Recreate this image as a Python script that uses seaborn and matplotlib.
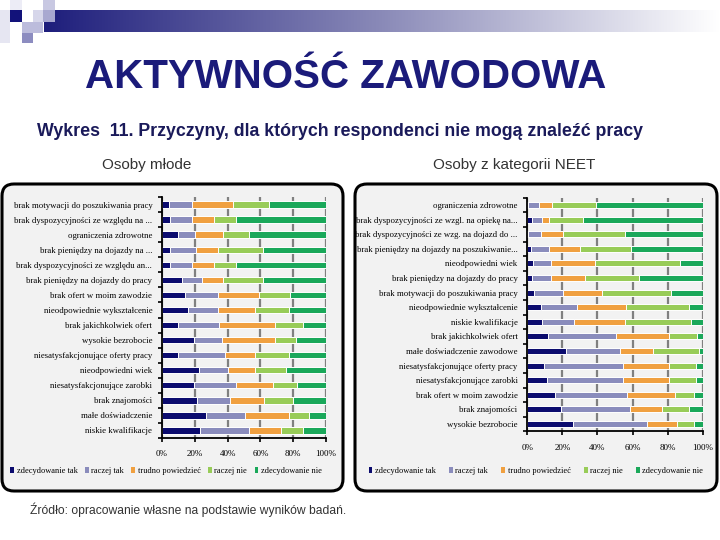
import numpy as np
import pandas as pd
import seaborn as sns
import matplotlib
matplotlib.use("Agg")
import matplotlib.pyplot as plt
from matplotlib.patches import FancyBboxPatch, Rectangle, Patch
from matplotlib.ticker import FixedLocator
from matplotlib.colors import LinearSegmentedColormap

# ---------------- data ----------------
series_names = ["zdecydowanie tak", "raczej tak", "trudno powiedzieć", "raczej nie", "zdecydowanie nie"]

left_categories = [
    "brak motywacji do poszukiwania pracy",
    "brak dyspozycyjności ze względu na ...",
    "ograniczenia zdrowotne",
    "brak pieniędzy na dojazdy na ...",
    "brak dyspozycyjności ze względu an...",
    "brak pieniędzy na dojazdy do pracy",
    "brak ofert w moim zawodzie",
    "nieodpowiednie wykształcenie",
    "brak jakichkolwiek ofert",
    "wysokie bezrobocie",
    "niesatysfakcjonujące oferty pracy",
    "nieodpowiedni wiek",
    "niesatysfakcjonujące zarobki",
    "brak znajomości",
    "małe doświadczenie",
    "niskie kwalifikacje",
]
left_zdec_tak = [4, 5, 10, 5, 5, 12, 14, 15.7, 9.8, 19.3, 9.8, 22.6, 19.3, 21.4, 27.1, 23.2]
left_raczej_tak = [14, 13, 10, 16, 13, 12.4, 20.4, 18.5, 25, 17.4, 28.5, 17.5, 25.9, 19.9, 23.8, 30]
left_trudno = [25, 14, 17, 13, 14, 12.9, 24.8, 22.6, 34, 32.5, 18.7, 16.9, 22.6, 20.8, 26.3, 19.1]
left_raczej_nie = [22, 13, 16, 27.5, 13, 24.2, 18.6, 20.8, 17.4, 12.5, 20.2, 18.4, 14.7, 17.9, 12.2, 13.9]
left_zdec_nie = [35, 55, 47, 38.5, 55, 38.5, 22.2, 22.4, 13.8, 18.3, 22.8, 24.6, 17.5, 20, 10.6, 13.8]

right_categories = [
    "ograniczenia zdrowotne",
    "brak dyspozycyjności ze wzgl. na opiekę na...",
    "brak dyspozycyjności ze wzg. na dojazd do ...",
    "brak pieniędzy na dojazdy na poszukiwanie...",
    "nieodpowiedni wiek",
    "brak pieniędzy na dojazdy do pracy",
    "brak motywacji do poszukiwania pracy",
    "nieodpowiednie wykształcenie",
    "niskie kwalifikacje",
    "brak jakichkolwiek ofert",
    "małe doświadczenie zawodowe",
    "niesatysfakcjonujące oferty pracy",
    "niesatysfakcjonujące zarobki",
    "brak ofert w moim zawodzie",
    "brak znajomości",
    "wysokie bezrobocie",
]
right_zdec_tak = [0.5, 2.7, 0.5, 2.3, 3.4, 2.7, 4, 7.8, 8.6, 12, 22, 9.7, 11, 16, 19.4, 26.2]
right_raczej_tak = [6.3, 5.5, 7.5, 10.2, 10.3, 11, 16.2, 20.5, 18, 38.4, 30.8, 45.1, 43.8, 40.7, 39, 41.9]
right_trudno = [7.5, 4.2, 12.2, 17.3, 25.1, 19, 22.6, 28.2, 28.9, 30.4, 18.6, 26, 26, 27.5, 18.6, 17.1]
right_raczej_nie = [24.7, 19.3, 35.7, 29.1, 48.1, 31.2, 39.3, 35.7, 37.7, 15.8, 26.3, 15.4, 15.2, 10.7, 15, 10]
right_zdec_nie = [61, 68.3, 44.1, 41.1, 13.1, 36.1, 17.9, 7.8, 6.8, 3.4, 2.3, 3.8, 4, 5.1, 8, 4.8]

tick_labels = ["0%", "20%", "40%", "60%", "80%", "100%"]

colors = ["#0b0b6e", "#8a8cbc", "#f0a040", "#98cc58", "#1aa85a"]
NAVY = "#1b1b7a"
SANS = ["Liberation Sans Narrow", "Liberation Sans", "DejaVu Sans"]
SERIF = ["Liberation Serif", "DejaVu Serif"]

W, H = 720, 540
fig = plt.figure(figsize=(7.2, 5.4), dpi=100)
fig.patch.set_facecolor("white")

bg = fig.add_axes([0, 0, 1, 1], zorder=0)
bg.set_xlim(0, W)
bg.set_ylim(H, 0)
bg.axis("off")

grad = np.linspace(0, 1, 256).reshape(1, -1)
cmap = LinearSegmentedColormap.from_list("g", ["#1e1e7c", "#8a8ab8", "#ffffff"])
bg.imshow(grad, cmap=cmap, extent=(44, 720, 32, 10), aspect="auto", zorder=1)
squares = [
    (0, 10, 10, 33, "#e6e6f2"),
    (10, 0, 12, 10, "#ececf6"),
    (43, 0, 12, 10, "#c8c8e2"),
    (10, 10, 12, 12, "#12127a"),
    (33, 10, 10, 12, "#d6d6ea"),
    (43, 10, 12, 12, "#a8a8d0"),
    (22, 22, 21, 11, "#bcbcdc"),
    (22, 33, 11, 10, "#8c8cc0"),
]
for x, y, w, h, c in squares:
    bg.add_patch(Rectangle((x, y), w, h, facecolor=c, edgecolor="none", zorder=2))

bg.text(346, 77, "AKTYWNOŚĆ ZAWODOWA", ha="center", va="center", fontsize=29,
        fontweight="bold", color=NAVY, family=["Liberation Sans", "DejaVu Sans"])
bg.text(340, 132, "Wykres  11. Przyczyny, dla których respondenci nie mogą znaleźć pracy",
        ha="center", va="center", fontsize=12.8, fontweight="bold", color="#1a1a5a", family=SANS)
bg.text(147, 165, "Osoby młode", ha="center", va="center", fontsize=11, color="#333333", family=SANS)
bg.text(514, 165, "Osoby z kategorii NEET", ha="center", va="center", fontsize=11, color="#333333", family=SANS)
bg.text(30, 510, "Źródło: opracowanie własne na podstawie wyników badań.", ha="left", va="center",
        fontsize=8.7, color="#333333", family=SANS)

for x0, x1 in [(2, 343), (355, 717)]:
    bg.add_patch(FancyBboxPatch((x0, 184), x1 - x0, 307, boxstyle="round,pad=0,rounding_size=12",
                                facecolor="#f2f2f2", edgecolor="black", linewidth=2.2, zorder=1))


def draw(ax, cats, vals, lab_size):
    arr = np.array(vals, dtype=float)
    cum = np.cumsum(arr, axis=0)
    df = pd.DataFrame({"cat": cats})
    for i in range(len(vals) - 1, -1, -1):
        df["v"] = cum[i]
        sns.barplot(data=df, x="v", y="cat", orient="h", color=colors[i], ax=ax,
                    width=0.42, edgecolor="white", linewidth=0.7, saturation=1)
    ax.set_xlim(0, 100)
    ax.set_facecolor("none")
    ax.set_xlabel("")
    ax.set_ylabel("")
    ax.xaxis.set_major_locator(FixedLocator([0, 20, 40, 60, 80, 100]))
    ax.set_xticklabels(tick_labels)
    ax.xaxis.grid(True, color="#808080", linewidth=1.6)
    ax.set_axisbelow(True)
    for s in ["top", "right"]:
        ax.spines[s].set_visible(False)
    ax.spines["left"].set_linewidth(1.3)
    ax.spines["bottom"].set_linewidth(1.3)
    ax.tick_params(axis="y", length=0, pad=7, labelsize=lab_size)
    ax.yaxis.set_minor_locator(FixedLocator(np.arange(-0.5, len(cats), 1)))
    ax.tick_params(axis="y", which="minor", length=3, width=1.2)
    ax.tick_params(axis="x", length=3, width=1.2, labelsize=6.5, pad=6)
    for t in ax.get_yticklabels() + ax.get_xticklabels():
        t.set_family(SERIF)


ax1 = fig.add_axes([162 / W, 1 - 438 / H, (326 - 162) / W, (438 - 197) / H], zorder=2)
draw(ax1, left_categories,
     [left_zdec_tak, left_raczej_tak, left_trudno, left_raczej_nie, left_zdec_nie], 6.3)

ax2 = fig.add_axes([527.3 / W, 1 - 431.3 / H, (702.7 - 527.3) / W, (431.3 - 197.7) / H], zorder=2)
draw(ax2, right_categories,
     [right_zdec_tak, right_raczej_tak, right_trudno, right_raczej_nie, right_zdec_nie], 6.3)

handles = [Patch(facecolor=c, edgecolor="none") for c in colors]
for ax, cx, cs in [(ax1, 166, 0.9), (ax2, 536, 1.6)]:
    ax.legend(handles, series_names, ncol=5, loc="center",
              bbox_to_anchor=(cx / W, 1 - 471 / H), bbox_transform=fig.transFigure,
              frameon=False, handlelength=0.45, handleheight=0.8,
              handletextpad=0.3, columnspacing=cs,
              prop={"family": SERIF, "size": 6})

fig.savefig("out.png", dpi=100, facecolor="white")
